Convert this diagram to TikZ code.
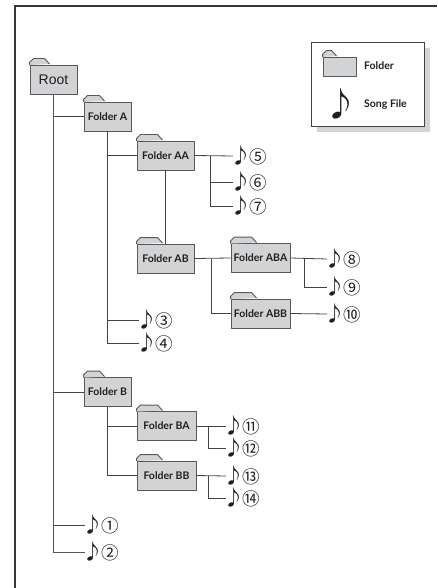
\documentclass[tikz,border=0pt]{standalone}
\usepackage{fontspec}
\usepackage{xcolor}
\usetikzlibrary{shadows}
\setmainfont{Lato}
\newfontfamily\symbfont{Noto Sans CJK JP}
\newfontfamily\rootfont{Liberation Sans}
\definecolor{folder-gray}{HTML}{D1D3D4}
\definecolor{edge-gray}{HTML}{58595B}
\definecolor{ink}{HTML}{231F20}
\newcommand{\song}[1]{{\symbfont\fontsize{21}{21}\selectfont ♪}\kern-1.5pt{\symbfont\fontsize{17.5}{18}\selectfont #1}}
\tikzset{
    folder-box/.style = {draw=edge-gray, fill=folder-gray, line width=0.9pt, rectangle, minimum height=29pt, inner sep=0pt, text=ink, font=\fontsize{10.5}{12}\selectfont\bfseries},
    folder-tab/.style = {draw=edge-gray, fill=folder-gray, line width=0.9pt, line join=round},
    song-file/.style = {anchor=west, inner sep=0pt, outer sep=-3pt, text=ink},
    link/.style = {draw=ink!85, line width=0.8pt},
    trunk/.style = {draw=edge-gray, line width=1pt},
    legend-box/.style = {draw=ink!85, fill=white, line width=0.8pt, rectangle, minimum width=113pt, minimum height=84pt, general shadow={shadow xshift=6pt, shadow yshift=-6pt, fill=folder-gray, draw=none}},
    legend-text/.style = {anchor=west, inner sep=0pt, text=ink, font=\fontsize{10.5}{12}\selectfont\bfseries},
}
\begin{document}
\begin{tikzpicture}[x=1pt,y=-1pt]
\useasboundingbox (0,0) rectangle (437,588);
\fill[white] (0,0) rectangle (437,588);
% outer frame, open on the right and at the bottom
\draw[ink!90, line width=1.8pt] (15,588) -- (15,6) -- (437,6);

% legend
\node[legend-box] (legend) at (367.5,84) {};
\node[folder-box, minimum width=33pt, minimum height=19pt] (legend-folder) at (339.5,66.5) {};
\node[legend-text] (legend-folder-text) at (364,66) {Folder};
\node[inner sep=0pt, text=ink] (legend-note) at (341,103.5) {\symbfont\fontsize{33}{33}\selectfont ♪};
\node[legend-text] (legend-song-text) at (364,105) {Song File};

% folders
\node[folder-box, minimum width=47pt, font=\rootfont\fontsize{14}{14}\selectfont] (root) at (53.5,79.5) {Root};
\node[folder-box, minimum width=47pt] (a) at (107.5,116.5) {Folder A};
\node[folder-box, minimum width=57pt] (aa) at (165.5,155.5) {Folder AA};
\node[folder-box, minimum width=57pt] (ab) at (165.5,258.5) {Folder AB};
\node[folder-box, minimum width=59pt] (aba) at (260.5,258) {Folder ABA};
\node[folder-box, minimum width=59pt] (abb) at (260.5,313.5) {Folder ABB};
\node[folder-box, minimum width=47pt] (b) at (107.5,392) {Folder B};
\node[folder-box, minimum width=59pt] (ba) at (166.5,426) {Folder BA};
\node[folder-box, minimum width=59pt] (bb) at (166.5,475.5) {Folder BB};

\foreach \name/\w in {root/20, a/21, aa/26, ab/26, aba/26, abb/26, b/21, ba/26, bb/26, legend-folder/14}
    \filldraw[folder-tab] (\name.north west) ++(0,0.5) -- ++(0,-2.5) -- ++(4,-4) -- ++(\w-9,0) -- ++(5,5.5);

% song files
\node[song-file] (s1) at (85,525) {\song{①}};
\node[song-file] (s2) at (85,552) {\song{②}};
\node[song-file] (s3) at (139,320) {\song{③}};
\node[song-file] (s4) at (139,343) {\song{④}};
\node[song-file] (s5) at (233,156) {\song{⑤}};
\node[song-file] (s6) at (233,182) {\song{⑥}};
\node[song-file] (s7) at (233,206) {\song{⑦}};
\node[song-file] (s8) at (327,259) {\song{⑧}};
\node[song-file] (s9) at (327,287) {\song{⑨}};
\node[song-file] (s10) at (327,314) {\song{⑩}};
\node[song-file] (s11) at (226,426) {\song{⑪}};
\node[song-file] (s12) at (226,448) {\song{⑫}};
\node[song-file] (s13) at (226,476) {\song{⑬}};
\node[song-file] (s14) at (226,498) {\song{⑭}};

% connectors
\coordinate (aa-fork) at (210,156);
\coordinate (ab-fork) at (211,258.5);
\coordinate (aba-fork) at (304,259);
\coordinate (ba-fork) at (208,426);
\coordinate (bb-fork) at (208,476);

\draw[trunk] (root.south) -- (root.south |- s2.west) -- (s2.west);
\draw[link] (root.south |- a.west) -- (a.west);
\draw[link] (root.south |- b.west) -- (b.west);
\draw[link] (root.south |- s1.west) -- (s1.west);

\draw[link] (a.south) |- (s4.west);
\draw[link] (a.south |- aa.west) -- (aa.west);
\draw[link] (a.south |- s3.west) -- (s3.west);

\draw[link] (aa.south) -- (ab.north);
\draw[link] (aa.east) -- (s5.west);
\draw[link] (aa-fork) |- (s6.west);
\draw[link] (aa-fork) |- (s7.west);

\draw[link] (ab.east) -- (aba.west);
\draw[link] (ab-fork) |- (abb.west);
\draw[link] (aba.east) -- (s8.west);
\draw[link] (aba-fork) |- (s9.west);
\draw[link] (abb.east) -- (s10.west);

\draw[link] (b.south) |- (bb.west);
\draw[link] (b.south |- ba.west) -- (ba.west);
\draw[link] (ba.east) -- (s11.west);
\draw[link] (ba-fork) |- (s12.west);
\draw[link] (bb.east) -- (s13.west);
\draw[link] (bb-fork) |- (s14.west);
\end{tikzpicture}
\end{document}
